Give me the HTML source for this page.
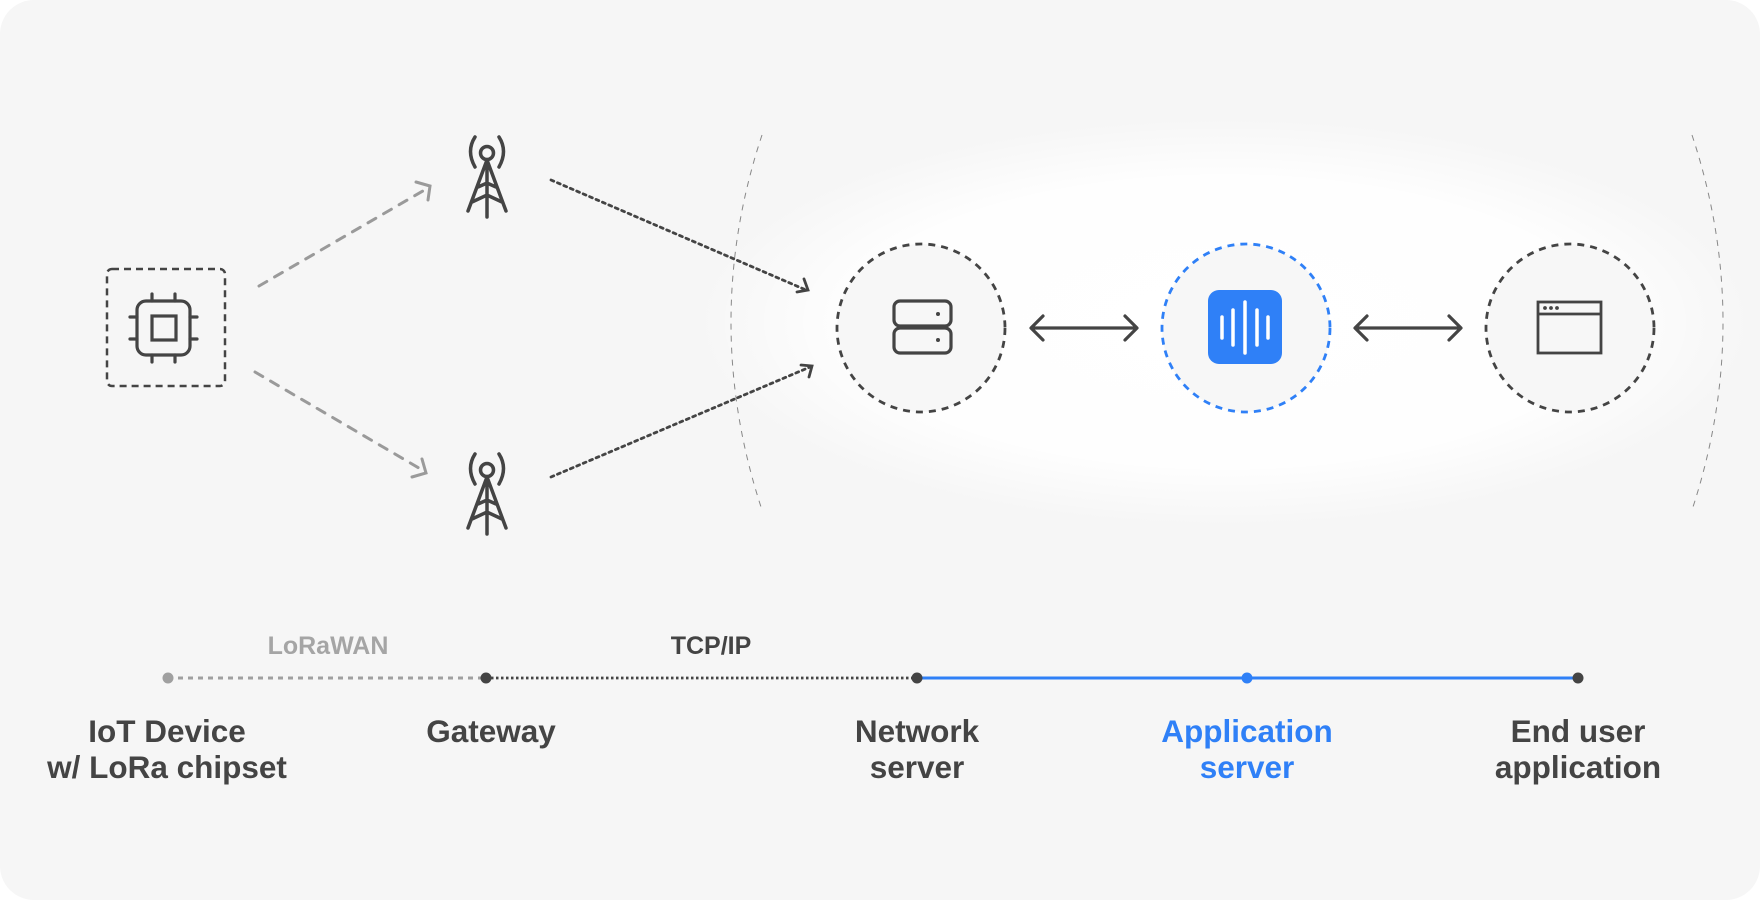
<!DOCTYPE html>
<html><head><meta charset="utf-8"><style>
html,body{margin:0;padding:0;background:#fff;}
svg{display:block;}
text{font-family:"Liberation Sans",sans-serif;font-weight:bold;}
</style></head><body>
<svg width="1760" height="900" viewBox="0 0 1760 900" xmlns="http://www.w3.org/2000/svg">
<defs>
<radialGradient id="glow" cx="0.5" cy="0.5" r="0.5">
<stop offset="0" stop-color="#ffffff" stop-opacity="1"/>
<stop offset="0.7" stop-color="#ffffff" stop-opacity="0.9"/>
<stop offset="1" stop-color="#ffffff" stop-opacity="0"/>
</radialGradient>
</defs>
<rect x="0" y="0" width="1760" height="900" rx="34" fill="#f6f6f6"/>
<ellipse cx="1225" cy="322" rx="530" ry="205" fill="url(#glow)"/>
<path d="M762 135 Q700 322 762 510" fill="none" stroke="#888" stroke-width="1" stroke-dasharray="6 6"/>
<path d="M1692 135 Q1754 322 1692 510" fill="none" stroke="#888" stroke-width="1" stroke-dasharray="6 6"/>

<rect x="107" y="269" width="118" height="117" rx="5" fill="none" stroke="#444" stroke-width="2.5" stroke-dasharray="7 5"/>
<g stroke="#444" stroke-width="3.2" fill="none" stroke-linecap="round">
<rect x="137" y="301" width="53" height="54" rx="9"/>
<rect x="152" y="316" width="24" height="24"/>
<path d="M152 294v7M175 294v7M152 355v7M175 355v7M130 317h7M130 339h7M190 317h7M190 339h7"/>
</g>

<g id="tw" stroke="#444" stroke-width="3.5" fill="none" stroke-linecap="round">
<circle cx="487" cy="153" r="6.5"/>
<path d="M475 137 Q466 151 475 167M499 137 Q508 151 499 167"/>
<path d="M487 160 L468 211 M487 160 L506 211 M487 160 V217 M478 187 L487 183 L496 187 M472 202 L487 195 L502 202"/>
</g>
<use href="#tw" transform="translate(0,317)"/>

<g stroke="#9a9a9a" stroke-width="3" fill="none" stroke-linecap="round">
<path d="M259 286 L428 188" stroke-dasharray="9 9"/>
<path d="M416 182 L430 186 L428 200"/>
<path d="M255 372 L424 471" stroke-dasharray="9 9"/>
<path d="M412 477 L426 473 L422 459"/>
</g>
<g stroke="#444" stroke-width="2.8" fill="none" stroke-linecap="round">
<path d="M551 180 L806 290" stroke-dasharray="3 4"/>
<path d="M797 292 L808 290 L804 279"/>
<path d="M551 477 L810 367" stroke-dasharray="3 4"/>
<path d="M801 365 L812 366 L809 377"/>
</g>

<circle cx="921" cy="328" r="84" fill="#f7f7f7" stroke="#444" stroke-width="2.8" stroke-dasharray="7 6"/>
<circle cx="1246" cy="328" r="84" fill="#f7f7f7" stroke="#2f80f7" stroke-width="2.8" stroke-dasharray="7 6"/>
<circle cx="1570" cy="328" r="84" fill="#f7f7f7" stroke="#444" stroke-width="2.8" stroke-dasharray="7 6"/>

<g stroke="#444" stroke-width="3.2" fill="none">
<rect x="894" y="301" width="57" height="25" rx="6"/>
<rect x="894" y="328" width="57" height="25" rx="6"/>
</g>
<circle cx="938" cy="314" r="2" fill="#444"/>
<circle cx="938" cy="340" r="2" fill="#444"/>

<rect x="1208" y="290" width="74" height="74" rx="11" fill="#2f80f7"/>
<g stroke="#fff" stroke-width="3.5" stroke-linecap="round">
<path d="M1222 317v21M1233 310v35M1245 302v51M1257 310v35M1268 317v21"/>
</g>

<g stroke="#444" stroke-width="2.8" fill="none">
<rect x="1538" y="302" width="63" height="51"/>
<path d="M1538 314h63"/>
</g>
<g fill="#444"><circle cx="1545" cy="308" r="1.9"/><circle cx="1551" cy="308" r="1.9"/><circle cx="1557" cy="308" r="1.9"/></g>

<g stroke="#444" stroke-width="3.2" fill="none" stroke-linecap="round" stroke-linejoin="round">
<path d="M1032 328H1136M1043 316L1031 328L1043 340M1125 316L1137 328L1125 340"/>
<path d="M1356 328H1460M1367 316L1355 328L1367 340M1449 316L1461 328L1449 340"/>
</g>

<line x1="168" y1="678" x2="486" y2="678" stroke="#a0a0a0" stroke-width="3" stroke-dasharray="5 5"/>
<line x1="486" y1="678" x2="917" y2="678" stroke="#444" stroke-width="2.8" stroke-dasharray="2.5 2.5"/>
<line x1="917" y1="678" x2="1578" y2="678" stroke="#2f80f7" stroke-width="3"/>
<circle cx="168" cy="678" r="5.5" fill="#a0a0a0"/>
<circle cx="486" cy="678" r="5.5" fill="#444"/>
<circle cx="917" cy="678" r="5.5" fill="#444"/>
<circle cx="1247" cy="678" r="5.5" fill="#2f80f7"/>
<circle cx="1578" cy="678" r="5.5" fill="#444"/>

<text x="328" y="654" font-size="25" fill="#a5a5a5" text-anchor="middle">LoRaWAN</text>
<text x="711" y="654" font-size="25" fill="#444" text-anchor="middle">TCP/IP</text>

<g font-size="31.5" fill="#444" text-anchor="middle">
<text x="167" y="742">IoT Device</text>
<text x="167" y="778">w/ LoRa chipset</text>
<text x="491" y="742">Gateway</text>
<text x="917" y="742">Network</text>
<text x="917" y="778">server</text>
<text x="1247" y="742" fill="#2f80f7">Application</text>
<text x="1247" y="778" fill="#2f80f7">server</text>
<text x="1578" y="742">End user</text>
<text x="1578" y="778">application</text>
</g>
</svg>
</body></html>
